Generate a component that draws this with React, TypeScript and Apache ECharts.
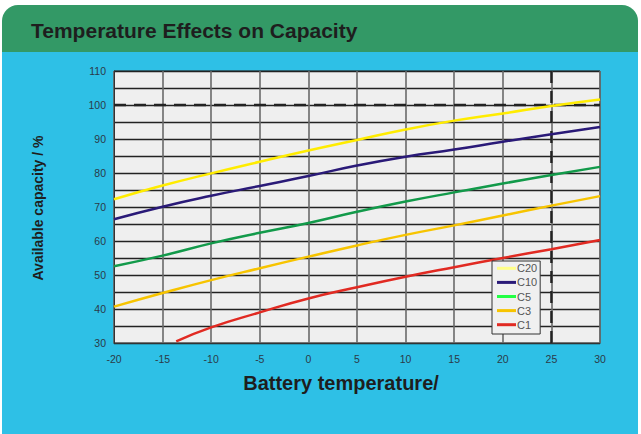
import React, { useEffect, useRef } from "react";
import * as echarts from "echarts";

const temps = [-20, -15, -10, -5, 0, 5, 10, 15, 20, 25, 30];
const c20 = [72.3, 76.3, 79.9, 83.3, 86.6, 89.7, 92.8, 95.4, 97.5, 99.7, 101.6];
const c10 = [66.4, 70.1, 73.3, 76.2, 79.1, 82.2, 84.8, 86.9, 89.2, 91.4, 93.5];
const c5 = [52.6, 55.7, 59.3, 62.4, 65.3, 68.6, 71.6, 74.3, 76.9, 79.4, 81.8];
const c3 = [40.7, 44.7, 48.5, 52.0, 55.4, 58.7, 61.8, 64.6, 67.5, 70.4, 73.2];
const c1Temps = [-13.6, -10, -5, 0, 5, 10, 15, 20, 25, 30];
const c1 = [30.5, 34.6, 39.0, 43.1, 46.4, 49.5, 52.3, 55.0, 57.6, 60.3];

const seriesNames = ["C20", "C10", "C5", "C3", "C1"];
const lineColors = ["#ffec00", "#2a1a78", "#129a4a", "#f7c400", "#e12a22"];
const legendColors = ["#ffff88", "#2a1a78", "#22ff44", "#f7c400", "#e12a22"];

const refCapacity = 100;
const refTemp = 25;
const xMin = -20, xMax = 30, yMin = 30, yMax = 110;

const FONT = "'Liberation Sans', Arial, sans-serif";

export default function App() {
  const ref = useRef<HTMLDivElement>(null);
  useEffect(() => {
    if (!ref.current) return;
    const chart = echarts.init(ref.current, null, { renderer: "svg" });
    const pairs = (xs: number[], ys: number[]) => xs.map((x, i) => [x, ys[i]]);
    const allData = [
      pairs(temps, c20),
      pairs(temps, c10),
      pairs(temps, c5),
      pairs(temps, c3),
      pairs(c1Temps, c1),
    ];
    const dashStyle = { color: "#222", width: 2.4, type: [12, 8] as any };
    chart.setOption({
      animation: false,
      backgroundColor: "#ffffff",
      graphic: [
        {
          type: "rect",
          z: -10,
          shape: { x: 2, y: 5, width: 636, height: 50, r: [16, 16, 0, 0] },
          style: { fill: "#339966" },
        },
        {
          type: "rect",
          z: -10,
          shape: { x: 2, y: 52, width: 636, height: 382 },
          style: { fill: "#2ec0e6" },
        },
        {
          type: "text",
          x: 31,
          y: 30,
          style: {
            text: "Temperature Effects on Capacity",
            font: `bold 21px ${FONT}`,
            fill: "#1e1e1e",
            textVerticalAlign: "middle",
          },
        },
        {
          type: "text",
          x: 38,
          y: 208,
          rotation: Math.PI / 2,
          style: {
            text: "Available capacity / %",
            font: `bold 14px ${FONT}`,
            fill: "#1e1e1e",
            textAlign: "center",
            textVerticalAlign: "middle",
          },
        },
        {
          type: "text",
          x: 341,
          y: 383,
          style: {
            text: "Battery temperature/",
            font: `bold 20px ${FONT}`,
            fill: "#1e1e1e",
            textAlign: "center",
            textVerticalAlign: "middle",
          },
        },
      ],
      grid: {
        left: 114,
        right: 41,
        top: 71,
        bottom: 91,
        show: true,
        backgroundColor: "#efefef",
        borderColor: "#333",
        borderWidth: 1,
      },
      legend: {
        left: 492,
        top: 261,
        orient: "vertical",
        itemWidth: 19,
        itemHeight: 3,
        itemGap: 1.5,
        padding: [1, 3, 3, 5],
        icon: "rect",
        borderColor: "#333",
        borderWidth: 1,
        backgroundColor: "#f0f0f0",
        textStyle: { fontSize: 11, color: "#555", fontFamily: FONT, lineHeight: 12.6, padding: [0, 0, 0, -4] },
        data: seriesNames.map((n, i) => ({ name: n, itemStyle: { color: legendColors[i] } })),
      },
      xAxis: {
        type: "value",
        min: xMin,
        max: xMax,
        interval: 5,
        axisLine: { show: true, onZero: false, lineStyle: { color: "#333", width: 1 } },
        axisTick: { show: false },
        axisLabel: { fontSize: 10.5, color: "#2b3a48", fontFamily: FONT, margin: 10 },
        splitLine: { show: true, lineStyle: { color: "#6a6a6a", width: 1.6 } },
      },
      yAxis: {
        type: "value",
        min: yMin,
        max: yMax,
        interval: 5,
        axisLine: { show: true, onZero: false, lineStyle: { color: "#333", width: 1 } },
        axisTick: { show: false },
        axisLabel: {
          fontSize: 10.5,
          color: "#2b3a48",
          fontFamily: FONT,
          margin: 8,
          formatter: (v: number) => (v % 10 === 0 ? String(v) : ""),
        },
        splitLine: { show: true, lineStyle: { color: "#222", width: 1.3 } },
      },
      series: [
        ...seriesNames.map((n, i) => ({
          name: n,
          type: "line",
          data: allData[i],
          smooth: true,
          showSymbol: false,
          symbol: "none",
          color: lineColors[i],
          lineStyle: { color: lineColors[i], width: 2.5 },
          z: 3,
        })),
        {
          name: "ref-h",
          type: "line",
          data: [[xMin, refCapacity], [xMax, refCapacity]],
          symbol: "none",
          lineStyle: dashStyle,
          z: 2,
        },
        {
          name: "ref-v",
          type: "line",
          data: [[refTemp, yMin], [refTemp, yMax]],
          symbol: "none",
          lineStyle: dashStyle,
          z: 2,
        },
      ],
    });
    return () => chart.dispose();
  }, []);
  return (
    <div
      ref={ref}
      style={{ position: "absolute", left: 0, top: 0, width: 641, height: 434 }}
    />
  );
}
